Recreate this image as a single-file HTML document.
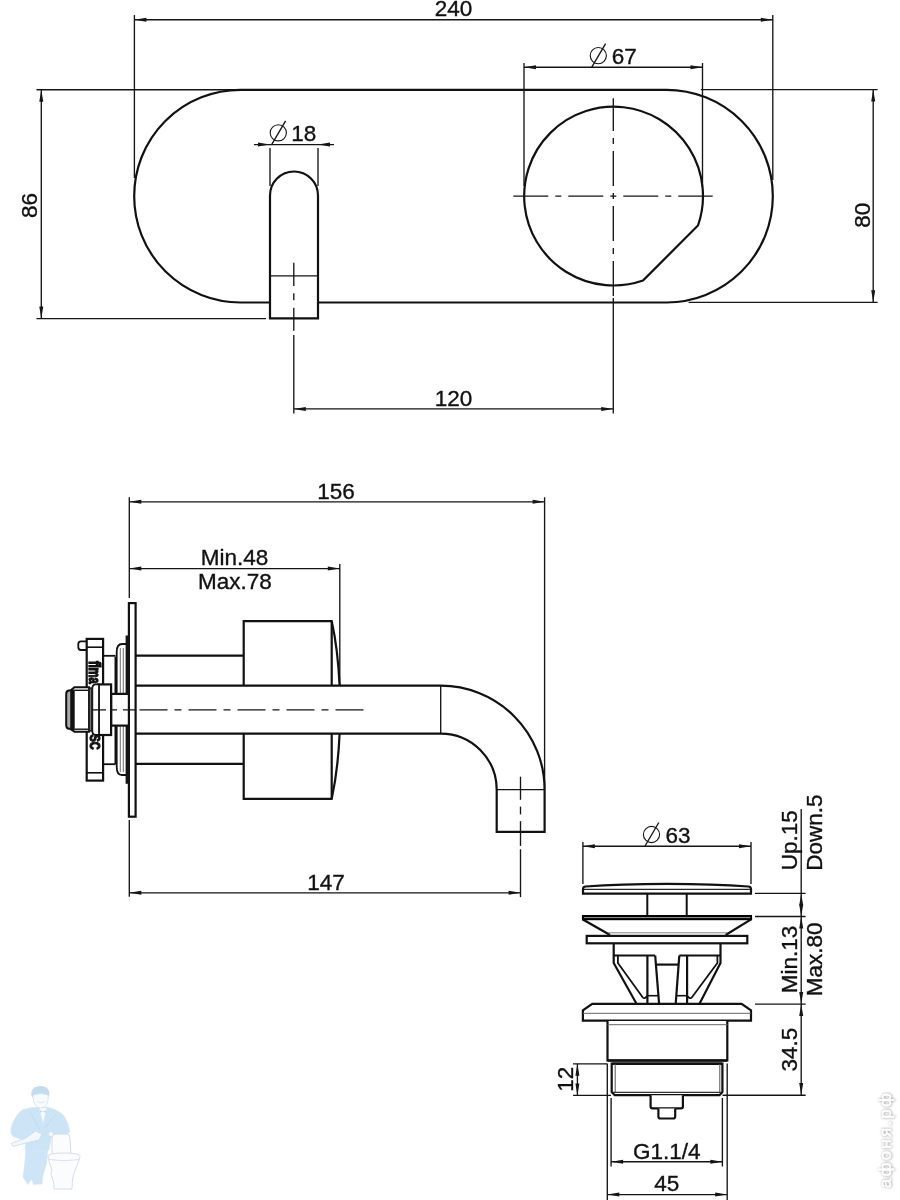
<!DOCTYPE html>
<html><head><meta charset="utf-8"><style>
html,body{margin:0;padding:0;background:#fff;width:900px;height:1200px;overflow:hidden}
svg{display:block;will-change:transform}
text{font-family:"Liberation Sans",sans-serif;fill:#111;stroke:#111;stroke-width:0.35px}
</style></head><body>
<svg width="900" height="1200" viewBox="0 0 900 1200">
<line x1="134.4" y1="15" x2="134.4" y2="178" stroke="#151515" stroke-width="1.35"/>
<line x1="772.8" y1="15" x2="772.8" y2="180" stroke="#151515" stroke-width="1.35"/>
<line x1="134.4" y1="19.7" x2="772.8" y2="19.7" stroke="#151515" stroke-width="1.35"/>
<polygon points="134.4,19.7 146.4,17.7 146.4,21.7" fill="#151515"/>
<polygon points="772.8,19.7 760.8,17.7 760.8,21.7" fill="#151515"/>
<text x="453.5" y="16.2" text-anchor="middle" font-size="22.5" >240</text>
<line x1="36.5" y1="89.7" x2="240" y2="89.7" stroke="#151515" stroke-width="1.35"/>
<line x1="36.5" y1="318.6" x2="266" y2="318.6" stroke="#151515" stroke-width="1.35"/>
<line x1="41.3" y1="89.7" x2="41.3" y2="318.6" stroke="#151515" stroke-width="1.35"/>
<polygon points="41.3,89.7 39.3,101.7 43.3,101.7" fill="#151515"/>
<polygon points="41.3,318.6 39.3,306.6 43.3,306.6" fill="#151515"/>
<text x="37.5" y="205.4" text-anchor="middle" font-size="22.5" transform="rotate(-90 37.5 205.4)" >86</text>
<path d="M240.5,89.8 H666.5 A106.3,106.3 0 0 1 666.5,302.5 H240.5 A106.3,106.3 0 0 1 240.5,89.8 Z" stroke="#111" stroke-width="2.2" fill="none" />
<path d="M270,318.4 V195.5 A24,24 0 0 1 318,195.5 V318.4 Z" stroke="#111" stroke-width="2.2" fill="#fff" />
<line x1="270" y1="275.9" x2="318" y2="275.9" stroke="#151515" stroke-width="1.35"/>
<line x1="293.8" y1="262.7" x2="293.8" y2="286.1" stroke="#151515" stroke-width="1.35"/>
<line x1="293.8" y1="293.2" x2="293.8" y2="300.3" stroke="#151515" stroke-width="1.35"/>
<line x1="293.8" y1="307.8" x2="293.8" y2="330.7" stroke="#151515" stroke-width="1.35"/>
<line x1="293.8" y1="335" x2="293.8" y2="413.6" stroke="#151515" stroke-width="1.35"/>
<line x1="270" y1="148" x2="270" y2="186" stroke="#151515" stroke-width="1.35"/>
<line x1="318" y1="148" x2="318" y2="186" stroke="#151515" stroke-width="1.35"/>
<line x1="254" y1="144.6" x2="334" y2="144.6" stroke="#151515" stroke-width="1.35"/>
<polygon points="270.0,144.6 258.0,142.6 258.0,146.6" fill="#151515"/>
<polygon points="318.0,144.6 330.0,142.6 330.0,146.6" fill="#151515"/>
<circle cx="278.3" cy="132.8" r="8.1" stroke="#151515" stroke-width="1.1" fill="none"/>
<line x1="271.8" y1="144.3" x2="285.6" y2="120.80000000000001" stroke="#151515" stroke-width="1.35"/>
<text x="291.2" y="140.8" text-anchor="start" font-size="22.5" >18</text>
<path d="M643,280.5 A89.4,89.4 0 1 1 698,225.5 Z" stroke="#111" stroke-width="2.2" fill="none" />
<line x1="613.3" y1="196.1" x2="511.7" y2="196.1" stroke="#151515" stroke-width="1.35" stroke-dasharray="6 7 35 7" stroke-dashoffset="3"/>
<line x1="613.3" y1="196.1" x2="712.7" y2="196.1" stroke="#151515" stroke-width="1.35" stroke-dasharray="6 7 35 7" stroke-dashoffset="3"/>
<line x1="613.3" y1="196.1" x2="613.3" y2="98.3" stroke="#151515" stroke-width="1.35" stroke-dasharray="6 7 35 7" stroke-dashoffset="3"/>
<line x1="613.3" y1="196.1" x2="613.3" y2="296" stroke="#151515" stroke-width="1.35" stroke-dasharray="6 7 35 7" stroke-dashoffset="3"/>
<line x1="613.3" y1="298" x2="613.3" y2="413.4" stroke="#151515" stroke-width="1.35"/>
<line x1="524" y1="63" x2="524" y2="186" stroke="#151515" stroke-width="1.35"/>
<line x1="702.5" y1="63" x2="702.5" y2="187" stroke="#151515" stroke-width="1.35"/>
<line x1="524" y1="67.2" x2="702.5" y2="67.2" stroke="#151515" stroke-width="1.35"/>
<polygon points="524.0,67.2 536.0,65.2 536.0,69.2" fill="#151515"/>
<polygon points="702.5,67.2 690.5,65.2 690.5,69.2" fill="#151515"/>
<circle cx="598.3" cy="55.6" r="8.1" stroke="#151515" stroke-width="1.1" fill="none"/>
<line x1="591.8" y1="67.1" x2="605.5999999999999" y2="43.6" stroke="#151515" stroke-width="1.35"/>
<text x="611.8" y="63.8" text-anchor="start" font-size="22.5" >67</text>
<line x1="700.8" y1="89.6" x2="877.6" y2="89.6" stroke="#151515" stroke-width="1.35"/>
<line x1="688.6" y1="302.3" x2="877.6" y2="302.3" stroke="#151515" stroke-width="1.35"/>
<line x1="873.2" y1="89.6" x2="873.2" y2="302.3" stroke="#151515" stroke-width="1.35"/>
<polygon points="873.2,89.6 871.2,101.6 875.2,101.6" fill="#151515"/>
<polygon points="873.2,302.3 871.2,290.3 875.2,290.3" fill="#151515"/>
<text x="870.2" y="215.2" text-anchor="middle" font-size="22.5" transform="rotate(-90 870.2 215.2)" >80</text>
<line x1="294" y1="408.9" x2="613.2" y2="408.9" stroke="#151515" stroke-width="1.35"/>
<polygon points="293.8,408.9 305.8,406.9 305.8,410.9" fill="#151515"/>
<polygon points="613.2,408.9 601.2,406.9 601.2,410.9" fill="#151515"/>
<text x="453.6" y="405.8" text-anchor="middle" font-size="22.5" >120</text>
<line x1="129.3" y1="497.3" x2="129.3" y2="598" stroke="#151515" stroke-width="1.35"/>
<line x1="544.6" y1="497.3" x2="544.6" y2="789" stroke="#151515" stroke-width="1.35"/>
<line x1="129.3" y1="501.8" x2="544.6" y2="501.8" stroke="#151515" stroke-width="1.35"/>
<polygon points="129.3,501.8 141.3,499.8 141.3,503.8" fill="#151515"/>
<polygon points="544.6,501.8 532.6,499.8 532.6,503.8" fill="#151515"/>
<text x="336" y="498.8" text-anchor="middle" font-size="22.5" >156</text>
<line x1="339.8" y1="564" x2="339.8" y2="686" stroke="#151515" stroke-width="1.35"/>
<line x1="129.3" y1="568.6" x2="339.8" y2="568.6" stroke="#151515" stroke-width="1.35"/>
<polygon points="129.3,568.6 141.3,566.6 141.3,570.6" fill="#151515"/>
<polygon points="339.8,568.6 327.8,566.6 327.8,570.6" fill="#151515"/>
<text x="234.6" y="565.2" text-anchor="middle" font-size="22.5" >Min.48</text>
<text x="234.8" y="589.4" text-anchor="middle" font-size="22.5" >Max.78</text>
<path d="M243.7,685.7 V621.1 H331.7 Q338,650 339.6,685.7" stroke="#111" stroke-width="2.2" fill="#fff" />
<path d="M243.7,733.6 V798.8 H331.7 Q338,770 339.6,733.6" stroke="#111" stroke-width="2.2" fill="#fff" />
<line x1="331.7" y1="621.1" x2="331.7" y2="685.7" stroke="#111" stroke-width="2.2"/>
<line x1="331.7" y1="733.6" x2="331.7" y2="798.8" stroke="#111" stroke-width="2.2"/>
<path d="M135.6,655.6 H243.7" stroke="#111" stroke-width="2.2" fill="none" />
<path d="M135.6,763.8 H243.7" stroke="#111" stroke-width="2.2" fill="none" />
<path d="M135.6,685.7 H440.7 A104,104 0 0 1 544.6,789.6 V831.9 H496.7 V789.6 A56,56 0 0 0 440.7,733.6 H135.6" stroke="#111" stroke-width="2.2" fill="none" />
<line x1="440.7" y1="685.7" x2="440.7" y2="733.6" stroke="#151515" stroke-width="1.35"/>
<line x1="496.7" y1="789.6" x2="544.6" y2="789.6" stroke="#151515" stroke-width="1.35"/>
<line x1="139.5" y1="709.8" x2="363.7" y2="709.8" stroke="#151515" stroke-width="1.35" stroke-dasharray="28 7 7 7" stroke-dashoffset="0"/>
<line x1="520.5" y1="776.7" x2="520.5" y2="799.8" stroke="#151515" stroke-width="1.35"/>
<line x1="520.5" y1="806.6" x2="520.5" y2="814.4" stroke="#151515" stroke-width="1.35"/>
<line x1="520.5" y1="821.2" x2="520.5" y2="845.9" stroke="#151515" stroke-width="1.35"/>
<line x1="520.5" y1="849.3" x2="520.5" y2="897.1" stroke="#151515" stroke-width="1.35"/>
<rect x="128.9" y="603.1" width="6.699999999999989" height="213.60000000000002" stroke="#111" stroke-width="2.2" fill="#fff"/>
<rect x="125.6" y="635.5" width="3.6" height="148.3" fill="#151515"/>
<path d="M126.4,644 H122 Q116.7,644 116.7,652 V767 Q116.7,775 122,775 H126.4" stroke="#111" stroke-width="1.8" fill="none" />
<line x1="120.3" y1="648" x2="120.3" y2="772" stroke="#777" stroke-width="1.1"/>
<line x1="123.3" y1="648" x2="123.3" y2="772" stroke="#777" stroke-width="1.1"/>
<line x1="115.5" y1="656.7" x2="115.5" y2="764.2" stroke="#111" stroke-width="2"/>
<rect x="86.7" y="638.9" width="16.39999999999999" height="141.70000000000005" stroke="#111" stroke-width="2.2" fill="#fff"/>
<line x1="86.7" y1="647.2" x2="103.1" y2="647.2" stroke="#111" stroke-width="1.6"/>
<line x1="86.7" y1="772.8" x2="103.1" y2="772.8" stroke="#111" stroke-width="1.6"/>
<path d="M86.7,641.3 H81 Q78.3,641.3 78.3,644 V647.3 Q78.3,650 81,650 H86.7" stroke="#111" stroke-width="1.8" fill="none" />
<line x1="103.1" y1="655.8" x2="115.5" y2="655.8" stroke="#111" stroke-width="1.8"/>
<line x1="103.1" y1="764.2" x2="115.5" y2="764.2" stroke="#111" stroke-width="1.8"/>
<rect x="111.1" y="693.9" width="17.80000000000001" height="31.700000000000045" stroke="#111" stroke-width="2.2" fill="#fff"/>
<rect x="98.3" y="684.4" width="12.799999999999997" height="50.60000000000002" stroke="#111" stroke-width="2.2" fill="#fff"/>
<path d="M99,684.4 H95.5 Q92.3,684.4 92.3,689 V730.5 Q92.3,735 95.5,735 H99 Z" stroke="#111" stroke-width="1.8" fill="#fff" />
<path d="M74.5,687.3 H89 V731.7 H74.5 L70.5,729 V690.5 Z" stroke="#111" stroke-width="2" fill="#fff" />
<path d="M70.5,690.5 H69 Q66.2,690.5 66.2,694 V725 Q66.2,728.7 69,728.7 H70.5" stroke="#111" stroke-width="2" fill="#aaa" />
<rect x="70.5" y="689.5" width="4.2" height="40.5" fill="#111"/>
<line x1="74.5" y1="690.3" x2="89" y2="690.3" stroke="#111" stroke-width="1.4"/>
<line x1="74.5" y1="729.2" x2="89" y2="729.2" stroke="#111" stroke-width="1.4"/>
<rect x="88.2" y="687.3" width="4.6" height="44.4" fill="#222"/>
<line x1="90.5" y1="689" x2="90.5" y2="730" stroke="#888" stroke-width="0.8"/>
<line x1="92" y1="709.8" x2="136" y2="709.8" stroke="#151515" stroke-width="1.35" stroke-dasharray="14 6 5 6" stroke-dashoffset="0"/>
<text transform="translate(89.2,661) rotate(90) scale(1,1.45)" font-size="11" font-weight="bold" style="stroke-width:0.9px">fima</text>
<text transform="translate(90,734.5) rotate(90) scale(1,1.3)" font-size="11" font-weight="bold" style="stroke-width:0.9px">SC</text>
<line x1="129.3" y1="820" x2="129.3" y2="896.7" stroke="#151515" stroke-width="1.35"/>
<line x1="129.3" y1="892.8" x2="520.6" y2="892.8" stroke="#151515" stroke-width="1.35"/>
<polygon points="129.3,892.8 141.3,890.8 141.3,894.8" fill="#151515"/>
<polygon points="520.6,892.8 508.6,890.8 508.6,894.8" fill="#151515"/>
<text x="326" y="889.6" text-anchor="middle" font-size="22.5" >147</text>
<line x1="582.9" y1="842" x2="582.9" y2="884" stroke="#151515" stroke-width="1.35"/>
<line x1="751" y1="842" x2="751" y2="884" stroke="#151515" stroke-width="1.35"/>
<line x1="582.9" y1="846.2" x2="751" y2="846.2" stroke="#151515" stroke-width="1.35"/>
<polygon points="582.9,846.2 594.9,844.2 594.9,848.2" fill="#151515"/>
<polygon points="751.0,846.2 739.0,844.2 739.0,848.2" fill="#151515"/>
<circle cx="651.5" cy="834.5" r="8.1" stroke="#151515" stroke-width="1.1" fill="none"/>
<line x1="645.0" y1="846.0" x2="658.8" y2="822.5" stroke="#151515" stroke-width="1.35"/>
<text x="665.5" y="842.8" text-anchor="start" font-size="22.5" >63</text>
<path d="M583,893.6 H751 V889 Q751,886.7 748.5,886.5 C720,884.3 700,883.8 667,883.8 C634,883.8 614,884.3 585.5,886.5 Q583,886.7 583,889 Z" stroke="#111" stroke-width="2.2" fill="#fff" />
<line x1="584" y1="889.3" x2="750" y2="889.3" stroke="#222" stroke-width="1.2"/>
<line x1="647.3" y1="893.3" x2="647.3" y2="917" stroke="#111" stroke-width="2"/>
<line x1="686.7" y1="893.3" x2="686.7" y2="917" stroke="#111" stroke-width="2"/>
<path d="M610,935 L583,919.5 V917.3 H751 V919.5 L725.6,935" stroke="#111" stroke-width="2.2" fill="#fff" />
<rect x="582" y="915" width="170" height="5.2" fill="#000"/>
<line x1="584" y1="917.6" x2="750" y2="917.6" stroke="#aaa" stroke-width="0.9"/>
<line x1="608" y1="932.8" x2="727" y2="932.8" stroke="#777" stroke-width="0.9"/>
<rect x="586.7" y="935.9" width="160.5999999999999" height="7.399999999999977" stroke="#111" stroke-width="2.2" fill="#fff"/>
<path d="M613.7,943.3 V963 L636.5,1003.8" stroke="#111" stroke-width="2.2" fill="none" />
<path d="M720.5,943.3 V963 L699.5,1003.8" stroke="#111" stroke-width="2.2" fill="none" />
<line x1="613.7" y1="955.6" x2="655.2" y2="955.6" stroke="#111" stroke-width="2"/>
<line x1="679.3" y1="955.6" x2="720.5" y2="955.6" stroke="#111" stroke-width="2"/>
<path d="M617.9,955.6 V963 L642.8,997.5 Q644.5,999.5 647.4,995.7" stroke="#111" stroke-width="1.8" fill="none" />
<path d="M717.4,955.6 V963 L691.8,997.5 Q690,999.5 687.1,995.7" stroke="#111" stroke-width="1.8" fill="none" />
<path d="M647.4,955.6 V1003.8" stroke="#111" stroke-width="2.2" fill="none" />
<path d="M655.2,955.6 L659.1,1003.8" stroke="#111" stroke-width="2.2" fill="none" />
<path d="M687.1,955.6 V1003.8" stroke="#111" stroke-width="2.2" fill="none" />
<path d="M679.3,955.6 L675.7,1003.8" stroke="#111" stroke-width="2.2" fill="none" />
<line x1="656" y1="964.6" x2="678.5" y2="964.6" stroke="#111" stroke-width="2.2"/>
<line x1="647.4" y1="995.7" x2="658.5" y2="995.7" stroke="#111" stroke-width="1.6"/>
<line x1="676.2" y1="995.7" x2="687.1" y2="995.7" stroke="#111" stroke-width="1.6"/>
<path d="M592.2,1003.8 H741.6 L751,1010.4 V1020.7 H582.9 V1010.4 Z" stroke="#111" stroke-width="2.2" fill="#fff" />
<line x1="583" y1="1013.3" x2="751" y2="1013.3" stroke="#666" stroke-width="1"/>
<path d="M607.5,1021 V1060.5 H727.3 V1021" stroke="#111" stroke-width="2.2" fill="#fff" />
<line x1="607.5" y1="1024.7" x2="727.3" y2="1024.7" stroke="#666" stroke-width="1"/>
<line x1="607.5" y1="1060.5" x2="727.3" y2="1060.5" stroke="#111" stroke-width="2.6"/>
<path d="M611.7,1063.7 H722.4 V1092 L719.5,1095.2 H614.7 L611.7,1092 Z" stroke="#111" stroke-width="2.2" fill="#fff" />
<line x1="612" y1="1063.7" x2="722" y2="1063.7" stroke="#111" stroke-width="2.4"/>
<line x1="615.2" y1="1064" x2="615.2" y2="1092" stroke="#555" stroke-width="1"/>
<line x1="719.8" y1="1064" x2="719.8" y2="1092" stroke="#555" stroke-width="1"/>
<line x1="613" y1="1092.3" x2="721" y2="1092.3" stroke="#333" stroke-width="1.2"/>
<path d="M650.6,1095.2 V1106.5 Q650.6,1108.4 652.5,1108.4 H681 Q682.9,1108.4 682.9,1106.5 V1095.2" stroke="#111" stroke-width="2.2" fill="#fff" />
<path d="M658.4,1108.4 V1116.5 Q658.4,1118.5 660.4,1118.5 H673.2 Q675.2,1118.5 675.2,1116.5 V1108.4" stroke="#111" stroke-width="2.2" fill="#fff" />
<line x1="573" y1="1063.8" x2="607" y2="1063.8" stroke="#151515" stroke-width="1.35"/>
<line x1="573" y1="1095.4" x2="611" y2="1095.4" stroke="#151515" stroke-width="1.35"/>
<line x1="577.4" y1="1063.8" x2="577.4" y2="1095.6" stroke="#151515" stroke-width="1.35"/>
<polygon points="577.4,1063.8 575.4,1075.8 579.4,1075.8" fill="#151515"/>
<polygon points="577.4,1095.6 575.4,1083.6 579.4,1083.6" fill="#151515"/>
<text x="573.2" y="1079.2" text-anchor="middle" font-size="22.5" transform="rotate(-90 573.2 1079.2)" >12</text>
<line x1="722.5" y1="1095.2" x2="805.6" y2="1095.2" stroke="#151515" stroke-width="1.35"/>
<line x1="611.1" y1="1098" x2="611.1" y2="1166.5" stroke="#151515" stroke-width="1.35"/>
<line x1="722.4" y1="1098" x2="722.4" y2="1166.5" stroke="#151515" stroke-width="1.35"/>
<line x1="611.1" y1="1161.7" x2="722.4" y2="1161.7" stroke="#151515" stroke-width="1.35"/>
<polygon points="611.1,1161.7 623.1,1159.7 623.1,1163.7" fill="#151515"/>
<polygon points="722.4,1161.7 710.4,1159.7 710.4,1163.7" fill="#151515"/>
<text x="666.8" y="1158.8" text-anchor="middle" font-size="22.5" >G1.1/4</text>
<line x1="607.3" y1="1063.5" x2="607.3" y2="1200" stroke="#151515" stroke-width="1.35"/>
<line x1="727.2" y1="1063.5" x2="727.2" y2="1200" stroke="#151515" stroke-width="1.35"/>
<line x1="607.3" y1="1194.6" x2="727.2" y2="1194.6" stroke="#151515" stroke-width="1.35"/>
<polygon points="607.3,1194.6 619.3,1192.6 619.3,1196.6" fill="#151515"/>
<polygon points="727.2,1194.6 715.2,1192.6 715.2,1196.6" fill="#151515"/>
<text x="666.8" y="1190.6" text-anchor="middle" font-size="22.5" >45</text>
<line x1="755" y1="893.4" x2="805.6" y2="893.4" stroke="#151515" stroke-width="1.35"/>
<line x1="755" y1="916.5" x2="805.6" y2="916.5" stroke="#151515" stroke-width="1.35"/>
<line x1="755" y1="1004.1" x2="805.6" y2="1004.1" stroke="#151515" stroke-width="1.35"/>
<line x1="801.2" y1="808.9" x2="801.2" y2="1094.9" stroke="#151515" stroke-width="1.35"/>
<polygon points="801.2,893.4 799.2,905.4 803.2,905.4" fill="#151515"/>
<polygon points="801.2,916.5 799.2,904.5 803.2,904.5" fill="#151515"/>
<polygon points="801.2,916.5 799.2,928.5 803.2,928.5" fill="#151515"/>
<polygon points="801.2,1004.1 799.2,992.1 803.2,992.1" fill="#151515"/>
<polygon points="801.2,1004.1 799.2,1016.1 803.2,1016.1" fill="#151515"/>
<polygon points="801.2,1094.9 799.2,1082.9 803.2,1082.9" fill="#151515"/>
<text x="797.2" y="840.3" text-anchor="middle" font-size="22.5" transform="rotate(-90 797.2 840.3)" >Up.15</text>
<text x="821.6" y="832.6" text-anchor="middle" font-size="22.5" transform="rotate(-90 821.6 832.6)" >Down.5</text>
<text x="797.2" y="959.4" text-anchor="middle" font-size="22.5" transform="rotate(-90 797.2 959.4)" >Min.13</text>
<text x="822" y="959.4" text-anchor="middle" font-size="22.5" transform="rotate(-90 822 959.4)" >Max.80</text>
<text x="797.2" y="1049.5" text-anchor="middle" font-size="22.5" transform="rotate(-90 797.2 1049.5)" >34.5</text>
<g stroke-linejoin="round">
<path d="M26,1148 L48,1148 L46.5,1164 L43,1175 L42,1184 L33.5,1184.5 L31.5,1179 L28,1184.5 L23,1177 L24.5,1166 Z" fill="#cde5f6" stroke="#d3e7f5" stroke-width="0.6"/>
<path d="M22,1110 Q30,1107 39,1107 L47,1107 Q59,1110 64,1116 Q69,1124 70,1132 L66,1134.5 L52,1134.5 L49,1150 L25,1150 L25.5,1141 L13,1136.5 Q10,1133 11,1128 Q14,1117 22,1110 Z" fill="#cbe4f6" stroke="#d6e9f6" stroke-width="0.6"/>
<path d="M39,1107.5 L43,1125 L47,1107.5 Z" fill="#f6fafd" stroke="#cfe2f2" stroke-width="0.6"/>
<path d="M40,1110 L46,1113 L46,1110 L40,1113 Z" fill="#c4ddf0"/>
<path d="M31.3,1096 Q30.5,1086 40,1086 Q50,1086 49.5,1095 L48,1097 Q41,1093 33,1097.5 Z" fill="#c2ddf2"/>
<path d="M33,1095 Q33,1108 41,1108 Q48.8,1108 48.3,1095 Q41,1092 33,1095 Z" fill="#f8fbfe" stroke="#c9def0" stroke-width="0.7"/>
<path d="M11,1143.5 L26,1138 L35.5,1131 L42,1134 L39,1140 L28,1142.5 L13,1146.5 Z" fill="#f4f8fc" stroke="#c6dcee" stroke-width="0.8"/>
<path d="M52,1138 Q52,1134 56,1134 L67,1134 Q70,1134 70,1138 L71,1155 L52,1155 Z" fill="#fbfcfe" stroke="#d0d8ea" stroke-width="0.9"/>
<circle cx="51" cy="1134" r="2.6" fill="#f4f8fc" stroke="#c6dcee" stroke-width="0.7"/>
<path d="M48,1156.5 Q48,1153 64,1153 Q80,1153 80,1156.5 Q79,1162 76,1168 Q72,1176 72,1189 L54,1189 Q54,1182 52.5,1178 Q49.5,1175 52,1170 Q49,1163 48,1156.5 Z" fill="#fbfcfe" stroke="#d0d8ea" stroke-width="0.9"/>
<path d="M49,1159.5 Q64,1162 79,1159.5" fill="none" stroke="#d0d8ea" stroke-width="0.8"/>
<path d="M37.5,1101.5 Q41,1104 44.5,1101.5" fill="none" stroke="#c4d9ea" stroke-width="0.6"/><path d="M30,1112 L40,1130 M56,1114 L45,1128" fill="none" stroke="#bdd7ec" stroke-width="0.7"/>
</g>
<defs><filter id="bl" x="-20%" y="-20%" width="140%" height="140%"><feGaussianBlur stdDeviation="1.1"/></filter></defs><g transform="translate(890.5,1139.5) rotate(-90)"><text x="0" y="1" text-anchor="middle" font-size="17" letter-spacing="2.2" filter="url(#bl)" style="fill:#aaa;stroke:#aaa;stroke-width:1.1px">афоня.рф</text><text x="0" y="0" text-anchor="middle" font-size="17" letter-spacing="2.2" style="fill:#fff;stroke:#fff;stroke-width:0.6px">афоня.рф</text></g>
</svg></body></html>
